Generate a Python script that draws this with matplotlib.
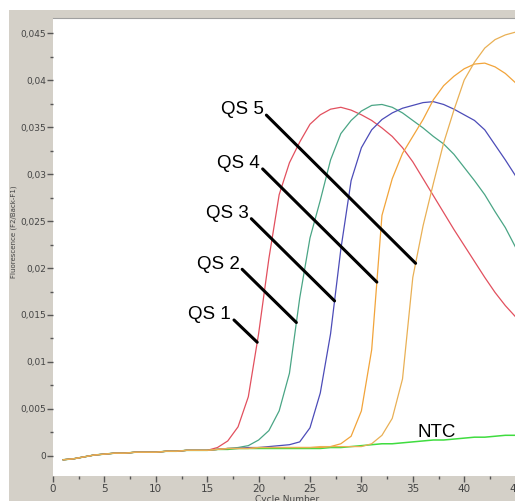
import numpy as np
import matplotlib
matplotlib.use("Agg")
import matplotlib.pyplot as plt
from matplotlib.patches import Rectangle
from matplotlib.ticker import MultipleLocator, FuncFormatter

cycles = np.arange(1, 46)

base = [-0.0004, -0.0003, -0.0001, 0.0001, 0.0002, 0.0003, 0.0003, 0.0004,
        0.0004, 0.0004, 0.0005, 0.0005, 0.0006, 0.0006, 0.0006, 0.0007]

qs1 = base[:15] + [0.0009, 0.0016, 0.0031, 0.0063, 0.0130, 0.0210, 0.0278,
                   0.0312, 0.0334, 0.0353, 0.0363, 0.0369, 0.0371, 0.0368,
                   0.0363, 0.0357, 0.0349, 0.0340, 0.0328, 0.0313, 0.0295,
                   0.0277, 0.0259, 0.0241, 0.0224, 0.0207, 0.0190, 0.0174,
                   0.0160, 0.0148]
qs2 = base + [0.0008, 0.0009, 0.0011, 0.0017, 0.0027, 0.0048, 0.0088, 0.0168,
              0.0232, 0.0272, 0.0315, 0.0343, 0.0357, 0.0367, 0.0373, 0.0374,
              0.0371, 0.0365, 0.0357, 0.0349, 0.0340, 0.0332, 0.0321, 0.0307,
              0.0293, 0.0278, 0.0260, 0.0243, 0.0222]
qs3 = base + [0.0008, 0.0008, 0.0009, 0.0009, 0.0010, 0.0011, 0.0012, 0.0015,
              0.0030, 0.0067, 0.0130, 0.0220, 0.0293, 0.0328, 0.0347, 0.0358,
              0.0365, 0.0370, 0.0373, 0.0376, 0.0377, 0.0374, 0.0369, 0.0363,
              0.0357, 0.0347, 0.0331, 0.0315, 0.0298]
qs4 = base + [0.0008, 0.0008, 0.0008, 0.0009, 0.0009, 0.0009, 0.0009, 0.0009,
              0.0009, 0.0009, 0.0010, 0.0013, 0.0021, 0.0048, 0.0113, 0.0256,
              0.0295, 0.0322, 0.0340, 0.0358, 0.0379, 0.0394, 0.0404, 0.0412,
              0.0417, 0.0418, 0.0414, 0.0407, 0.0397]
qs5 = base + [0.0008, 0.0008, 0.0008, 0.0009, 0.0009, 0.0009, 0.0009, 0.0009,
              0.0009, 0.0010, 0.0010, 0.0010, 0.0010, 0.0010, 0.0013, 0.0022,
              0.0040, 0.0082, 0.0190, 0.0245, 0.0290, 0.0333, 0.0368, 0.0400,
              0.0419, 0.0434, 0.0443, 0.0448, 0.0451]
ntc = base + [0.0007, 0.0008, 0.0008, 0.0008, 0.0008, 0.0008, 0.0008, 0.0008,
              0.0008, 0.0008, 0.0009, 0.0009, 0.0010, 0.0011, 0.0012, 0.0013,
              0.0013, 0.0014, 0.0015, 0.0016, 0.0017, 0.0017, 0.0018, 0.0019,
              0.0020, 0.0020, 0.0021, 0.0022, 0.0022]

names = ["QS 1", "QS 2", "QS 3", "QS 4", "QS 5"]
colors = ["#e2505e", "#4aa585", "#4c4cb8", "#f2a43a", "#e9b055"]
# fluorescence level where each pointer touches its curve
pointer_levels = [0.0121, 0.0142, 0.0165, 0.0185, 0.0205]
pointer_offsets = [24, 55, 84, 115, 150]

gray = "#d4d0c8"
fig = plt.figure(figsize=(5.15, 5.01), dpi=100, facecolor="white")
fig.patches.append(Rectangle((9 / 515, 0), 1, 491 / 501, transform=fig.transFigure,
                             facecolor=gray, edgecolor="none", zorder=-10))

ax = fig.add_axes([53 / 515, 25 / 501, 514 / 515, 458 / 501])
ax.set_facecolor("white")

ax.plot(cycles, ntc, color="#3fdc3f", lw=1.1)
series = [qs1, qs2, qs3, qs4, qs5]
for vals, c in zip(series, colors):
    ax.plot(cycles, vals, color=c, lw=0.9)

for name, vals, lvl, off in zip(names, series, pointer_levels, pointer_offsets):
    v = np.array(vals)
    i = int(np.argmax(v >= lvl))
    x = np.interp(lvl, v[i - 1:i + 1], cycles[i - 1:i + 1])
    ax.annotate(name, xy=(x, lvl), xytext=(-off - 2, off - 5), textcoords="offset pixels",
                ha="right", va="bottom", fontsize=13.5, family="Liberation Sans",
                arrowprops=dict(arrowstyle="-", lw=2.2, color="black",
                                shrinkA=0, shrinkB=0, relpos=(1.02, 0.3)))

ax.text(35.5, 0.0020, "NTC", fontsize=13.5, family="Liberation Sans")

ax.set_xlim(0, 50)
ax.set_ylim(-0.00213, 0.0466)
ax.xaxis.set_major_locator(MultipleLocator(5))
ax.xaxis.set_minor_locator(MultipleLocator(2.5))
ax.yaxis.set_major_locator(MultipleLocator(0.005))
ax.yaxis.set_minor_locator(MultipleLocator(0.0025))
ax.yaxis.set_major_formatter(FuncFormatter(lambda v, p: ("%g" % round(v, 4)).replace(".", ",")))
ax.tick_params(axis="both", which="major", direction="out", length=4, width=1,
               color="#555555", labelcolor="#444444")
ax.tick_params(axis="both", which="minor", direction="out", length=2, width=1,
               color="#555555")
ax.tick_params(axis="y", labelsize=6.5, pad=1)
ax.tick_params(axis="x", labelsize=7.5, pad=1.5)
for s in ["right", "bottom", "left"]:
    ax.spines[s].set_visible(False)
ax.spines["top"].set_color("#a0a0a0")

fig.text(287 / 515, 6 / 501, "Cycle Number", ha="center", va="top",
         fontsize=6.5, color="#444444")
fig.text(14 / 515, 1 - 232 / 501, "Fluorescence (F2/Back-F1)", rotation=90,
         ha="center", va="center", fontsize=5, color="#444444")

fig.savefig("out.png", dpi=100, facecolor=fig.get_facecolor())
